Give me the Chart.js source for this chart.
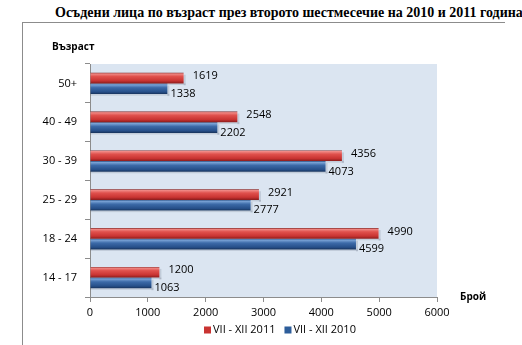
<!DOCTYPE html>
<html>
<head>
<meta charset="utf-8">
<script src="https://cdn.jsdelivr.net/npm/chart.js@4.4.0/dist/chart.umd.min.js"></script>
<style>
html,body{margin:0;padding:0;background:#fff;}
#wrap{position:relative;width:522px;height:345px;overflow:hidden;}
#title{position:absolute;left:55px;top:5px;font-family:"Liberation Serif","Times New Roman",serif;font-weight:bold;font-size:14px;color:#000;white-space:nowrap;}
#frameTop{position:absolute;left:22px;top:22px;width:483px;height:0;border-top:1px solid #8c8c8c;}
#frameLeft{position:absolute;left:22px;top:22px;width:0;height:323px;border-left:1px solid #8c8c8c;}
canvas{position:absolute;left:0;top:0;}
</style>
</head>
<body>
<div id="wrap">
<div id="title">Осъдени лица по възраст през второто шестмесечие на 2010 и 2011 година</div>
<div id="frameTop"></div>
<div id="frameLeft"></div>
<canvas id="c" width="522" height="345"></canvas>
</div>
<script>
const categories = ["50+", "40 - 49", "30 - 39", "25 - 29", "18 - 24", "14 - 17"];
const series2011 = [1619, 2548, 4356, 2921, 4990, 1200];
const series2010 = [1338, 2202, 4073, 2777, 4599, 1063];
const seriesNames = ["VII - XII 2011", "VII - XII 2010"];
const xTicks = [0, 1000, 2000, 3000, 4000, 5000, 6000];

const CAT_PCT = 0.55;
const FONT = '"Open Sans","Liberation Sans",Arial,sans-serif';

function barGradient(ctx, which) {
  const chart = ctx.chart;
  const ys = chart.scales && chart.scales.y;
  if (!ys || !chart.chartArea || ctx.dataIndex === undefined) {
    return which === 0 ? '#d63c3a' : '#2d5d9a';
  }
  const n = categories.length;
  const band = (ys.bottom - ys.top) / n;
  const h = band * CAT_PCT / 2;
  const c = ys.getPixelForValue(ctx.dataIndex);
  const top = which === 0 ? c - h : c;
  const g = chart.ctx.createLinearGradient(0, top, 0, top + h);
  if (which === 0) {
    g.addColorStop(0, '#7a1e1e');
    g.addColorStop(0.1, '#f08a86');
    g.addColorStop(0.35, '#e0514d');
    g.addColorStop(0.75, '#c93432');
    g.addColorStop(1, '#8a1c1c');
  } else {
    g.addColorStop(0, '#2a4f82');
    g.addColorStop(0.12, '#7aa3d6');
    g.addColorStop(0.4, '#3c6aa8');
    g.addColorStop(0.8, '#264f89');
    g.addColorStop(1, '#17325a');
  }
  return g;
}

const extras = {
  id: 'extras',
  beforeDatasetsDraw(chart) {
    const ctx = chart.ctx;
    ctx.save();
    chart.data.datasets.forEach((ds, di) => {
      chart.getDatasetMeta(di).data.forEach(bar => {
        ctx.fillStyle = 'rgba(90,100,120,0.2)';
        const left = bar.base, right = bar.x;
        ctx.fillRect(left, bar.y + bar.height / 2, right - left + 2, 1.5);
        ctx.fillRect(right, bar.y - bar.height / 2 + 2, 2, bar.height);
      });
    });
    ctx.restore();
  },
  afterDatasetsDraw(chart) {
    const ctx = chart.ctx;
    ctx.save();
    ctx.font = '11px ' + FONT;
    ctx.fillStyle = '#000';
    ctx.textBaseline = 'middle';
    ctx.textAlign = 'left';
    chart.data.datasets.forEach((ds, di) => {
      chart.getDatasetMeta(di).data.forEach((bar, i) => {
        const v = ds.data[i];
        if (di === 0) ctx.fillText(String(v), bar.x + 9, bar.y - 2);
        else ctx.fillText(String(v), bar.x + 3, bar.y + 5);
      });
    });
    ctx.font = 'bold 10px ' + FONT;
    ctx.fillText('Възраст', 52, 47);
    ctx.fillText('Брой', 460, 297);
    ctx.font = '11px ' + FONT;
    const cols = ['#c93432', '#2d5d9a'];
    let x = 204;
    const y = 330;
    seriesNames.forEach((name, k) => {
      ctx.fillStyle = cols[k];
      ctx.fillRect(x, y - 3.5, 7, 7);
      ctx.fillStyle = '#000';
      ctx.fillText(name, x + 9, y);
      x += 9 + ctx.measureText(name).width + 9;
    });
    ctx.restore();
  }
};

const bgPlugin = {
  id: 'bg',
  beforeDraw(chart) {
    const a = chart.chartArea;
    const ctx = chart.ctx;
    ctx.save();
    ctx.fillStyle = '#dbe5f1';
    ctx.fillRect(a.left, a.top, a.right - a.left, a.bottom - a.top);
    ctx.restore();
  }
};

new Chart(document.getElementById('c'), {
  type: 'bar',
  data: {
    labels: categories,
    datasets: [
      { label: seriesNames[0], data: series2011, backgroundColor: c => barGradient(c, 0), categoryPercentage: CAT_PCT, barPercentage: 1.0 },
      { label: seriesNames[1], data: series2010, backgroundColor: c => barGradient(c, 1), categoryPercentage: CAT_PCT, barPercentage: 1.0 }
    ]
  },
  options: {
    indexAxis: 'y',
    responsive: false,
    animation: false,
    events: [],
    layout: { padding: { left: 0, top: 64, right: 85, bottom: 22 } },
    plugins: { legend: { display: false }, tooltip: { enabled: false }, title: { display: false } },
    scales: {
      x: {
        min: 0, max: 6000,
        afterBuildTicks(scale) { scale.ticks = xTicks.map(v => ({ value: v })); },
        afterFit(scale) { scale.height = 26; },
        grid: { drawOnChartArea: false, drawTicks: true, tickLength: 5, color: '#8c8c8c' },
        border: { color: '#8c8c8c' },
        ticks: { color: '#000', font: { size: 11, family: FONT }, padding: 4, maxRotation: 0, callback: v => String(v) }
      },
      y: {
        afterFit(scale) { scale.width = 90; },
        grid: { drawOnChartArea: false, drawTicks: true, tickLength: 5, color: '#8c8c8c', offset: true },
        border: { color: '#8c8c8c' },
        ticks: { color: '#000', font: { size: 11, family: FONT }, padding: 8 }
      }
    }
  },
  plugins: [bgPlugin, extras]
});
</script>
</body>
</html>
